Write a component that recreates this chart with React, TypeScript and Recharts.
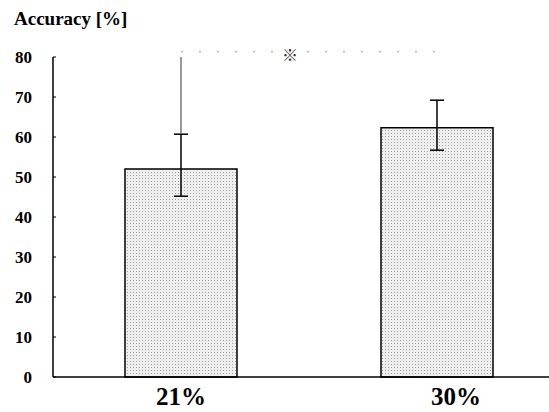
import { BarChart, Bar, XAxis, YAxis, ErrorBar, ReferenceLine } from 'recharts';

const categories = ['21%', '30%'];
const accuracy = [52, 62.3];
const errLow = [6.8, 5.6];
const errHigh = [8.7, 6.9];
const yTicks = [0, 10, 20, 30, 40, 50, 60, 70, 80];

const data = categories.map((c, i) => ({
  name: c,
  value: accuracy[i],
  err: [errLow[i], errHigh[i]],
}));

const serif = '"Liberation Serif", "DejaVu Serif", serif';

const XTick = (props: any) => {
  const { x, y, payload, index } = props;
  const shift = index === 1 ? 19 : 0;
  return (
    <text
      x={x + shift}
      y={y + 20}
      textAnchor="middle"
      fontFamily={serif}
      fontWeight="bold"
      fontSize={25}
      fill="#000"
    >
      {payload.value}
    </text>
  );
};

const App = () => {
  return (
    <div
      style={{
        position: 'absolute',
        left: 0,
        top: 0,
        width: 549,
        height: 412,
        overflow: 'hidden',
        background: '#fff',
      }}
    >
      <div
        style={{
          position: 'absolute',
          left: 14,
          top: 8,
          fontFamily: serif,
          fontWeight: 'bold',
          fontSize: 19,
          color: '#000',
        }}
      >
        Accuracy [%]
      </div>
      <BarChart
        width={565}
        height={412}
        data={data}
        margin={{ top: 57, right: 0, left: 0, bottom: 0 }}
      >
        <defs>
          <pattern id="dots" width="3" height="3" patternUnits="userSpaceOnUse">
            <rect width="3" height="3" fill="#efefef" />
            <rect x="1" y="1" width="1" height="1" fill="#a0a0a0" />
          </pattern>
        </defs>
        <XAxis
          dataKey="name"
          height={35}
          tickLine={false}
          axisLine={{ stroke: '#000', strokeWidth: 1.5 }}
          tick={<XTick />}
        />
        <YAxis
          width={53}
          domain={[0, 80]}
          ticks={yTicks}
          interval={0}
          tickSize={-3}
          tickMargin={24}
          axisLine={{ stroke: '#000', strokeWidth: 1.5 }}
          tickLine={{ stroke: '#000' }}
          tick={{
            fill: '#000',
            fontFamily: serif,
            fontWeight: 'bold',
            fontSize: 17,
          }}
        />
        <Bar
          dataKey="value"
          barSize={112}
          fill="url(#dots)"
          stroke="#000"
          strokeWidth={1.5}
          isAnimationActive={false}
        >
          <ErrorBar
            dataKey="err"
            width={7}
            stroke="#000"
            strokeWidth={1.5}
            isAnimationActive={false}
          />
        </Bar>
        <ReferenceLine
          segment={[
            { x: '21%', y: 61 },
            { x: '21%', y: 80 },
          ]}
          stroke="#777"
          strokeWidth={1.5}
          ifOverflow="visible"
        />
        <ReferenceLine
          segment={[
            { x: '21%', y: 81.3 },
            { x: '30%', y: 81.3 },
          ]}
          stroke="#999"
          strokeDasharray="2 16"
          ifOverflow="visible"
          label={{
            value: '※',
            position: 'center',
            dx: -19,
            dy: 4,
            fill: '#333',
            fontSize: 16,
            fontFamily: '"Noto Sans CJK JP", sans-serif',
          }}
        />
      </BarChart>
    </div>
  );
};

export default App;
